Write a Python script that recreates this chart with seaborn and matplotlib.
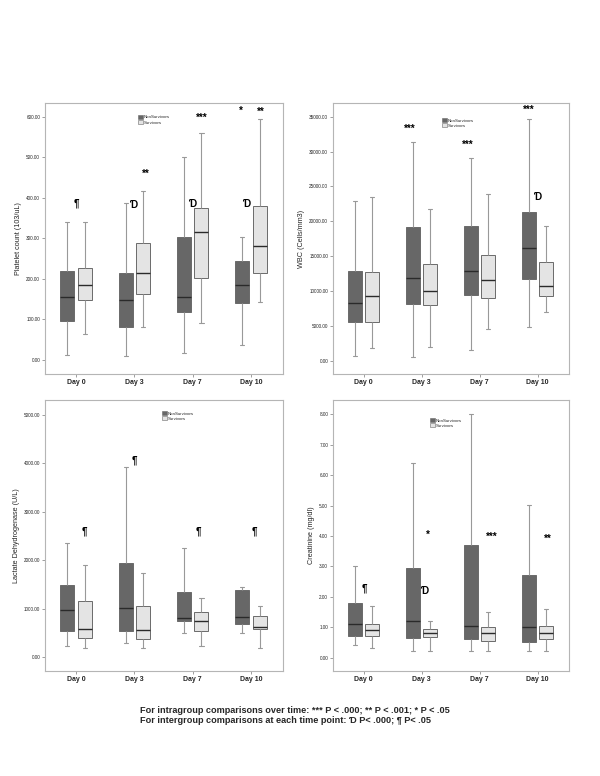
import numpy as np
import pandas as pd
import matplotlib
matplotlib.use("Agg")
import matplotlib.pyplot as plt
import seaborn as sns
from matplotlib.patches import Patch

sns.set_style("white")
plt.rcParams['font.family'] = ['Liberation Sans', 'DejaVu Sans']

days = ["Day 0", "Day 3", "Day 7", "Day 10"]
groups = ["NonSurvivors", "Survivors"]

# five-number summaries per day: [min, Q1, median, Q3, max]
platelet_ns = [[11, 97, 155, 220, 341], [9, 82, 148, 214, 386],
               [16, 119, 156, 302, 500], [36, 139, 185, 243, 302]]
platelet_s = [[63, 147, 185, 226, 339], [81, 162, 214, 288, 417],
              [92, 203, 316, 374, 560], [142, 214, 281, 380, 594]]

wbc_ns = [[714, 5619, 8333, 12857, 22857], [619, 8238, 11857, 19238, 31429],
          [1619, 9524, 12905, 19333, 29048], [4905, 11762, 16238, 21381, 34714]]
wbc_s = [[1905, 5571, 9286, 12762, 23476], [2048, 8000, 10000, 13952, 21810],
         [4619, 9095, 11619, 15190, 23857], [7095, 9333, 10762, 14143, 19333]]

ldh_ns = [[233, 549, 974, 1488, 2346], [288, 535, 1008, 1934, 3910],
          [494, 741, 816, 1351, 2250], [494, 686, 823, 1379, 1440]]
ldh_s = [[185, 405, 576, 1152, 1900], [185, 384, 556, 1049, 1728],
         [240, 542, 741, 926, 1214], [185, 576, 617, 844, 1049]]

creat_ns = [[0.41, 0.70, 1.10, 1.81, 3.01], [0.21, 0.66, 1.21, 2.94, 6.41],
            [0.21, 0.60, 1.04, 3.70, 8.00], [0.21, 0.50, 1.00, 2.71, 5.01]]
creat_s = [[0.31, 0.70, 0.91, 1.10, 1.71], [0.21, 0.67, 0.80, 0.95, 1.21],
           [0.21, 0.56, 0.80, 1.00, 1.51], [0.21, 0.60, 0.80, 1.05, 1.61]]

platelet_ticks = [0, 100, 200, 300, 400, 500, 600]
platelet_ticklabels = ["0.00", "100.00", "200.00", "300.00", "400.00", "500.00", "600.00"]
wbc_ticks = [0, 5000, 10000, 15000, 20000, 25000, 30000, 35000]
wbc_ticklabels = ["0.00", "5000.00", "10000.00", "15000.00", "20000.00",
                  "25000.00", "30000.00", "35000.00"]
ldh_ticks = [0, 1000, 2000, 3000, 4000, 5000]
ldh_ticklabels = ["0.00", "1000.00", "2000.00", "3000.00", "4000.00", "5000.00"]
creat_ticks = [0, 1, 2, 3, 4, 5, 6, 7, 8]
creat_ticklabels = ["0.00", "1.00", "2.00", "3.00", "4.00", "5.00", "6.00", "7.00", "8.00"]

DSYM = "\u018A"
# significance marks: (text, day index, offset, y)
platelet_marks = [("¶", 0, 0.0, 386), (DSYM, 1, 0.0, 382), ("**", 1, 0.19, 460),
                  (DSYM, 2, 0.0, 384), ("***", 2, 0.16, 596), (DSYM, 3, -0.07, 384),
                  ("*", 3, -0.18, 614), ("**", 3, 0.17, 611)]
wbc_marks = [("***", 1, -0.21, 33300), ("***", 2, -0.2, 31000),
             ("***", 3, -0.15, 35900), (DSYM, 3, 0.01, 23500)]
ldh_marks = [("¶", 0, 0.14, 2590), ("¶", 1, 0.0, 4060), ("¶", 2, 0.1, 2590), ("¶", 3, 0.05, 2590)]
creat_marks = [("¶", 0, 0.02, 2.28), ("*", 1, 0.11, 4.03), (DSYM, 1, 0.06, 2.19),
               ("***", 2, 0.21, 3.98), ("**", 3, 0.17, 3.92)]

note_lines = ["For intragroup comparisons over time: *** P < .000; ** P < .001; * P < .05",
              "For intergroup comparisons at each time point: " + DSYM + " P< .000; ¶ P< .05"]


def make_df(ns, s):
    rows = []
    for i, d in enumerate(days):
        for v in ns[i]:
            rows.append((d, groups[0], v))
        for v in s[i]:
            rows.append((d, groups[1], v))
    return pd.DataFrame(rows, columns=["day", "group", "value"])


panels = [
    dict(df=make_df(platelet_ns, platelet_s), ylabel="Platelet count (103/uL)",
         ticks=platelet_ticks, labels=platelet_ticklabels, ylim=(-35, 633),
         marks=platelet_marks, rect=[0.075, 0.518, 0.397, 0.349], leg=(0.39, 0.957)),
    dict(df=make_df(wbc_ns, wbc_s), ylabel="WBC (Cells/mm3)",
         ticks=wbc_ticks, labels=wbc_ticklabels, ylim=(-1810, 36905),
         marks=wbc_marks, rect=[0.555, 0.518, 0.394, 0.349], leg=(0.46, 0.945)),
    dict(df=make_df(ldh_ns, ldh_s), ylabel="Lactate Dehydrogenase (U/L)",
         ticks=ldh_ticks, labels=ldh_ticklabels, ylim=(-281, 5295),
         marks=ldh_marks, rect=[0.075, 0.1353, 0.397, 0.349], leg=(0.49, 0.96)),
    dict(df=make_df(creat_ns, creat_s), ylabel="Creatinine (mg/dl)",
         ticks=creat_ticks, labels=creat_ticklabels, ylim=(-0.44, 8.47),
         marks=creat_marks, rect=[0.555, 0.1353, 0.394, 0.349], leg=(0.41, 0.934)),
]

palette = {"NonSurvivors": "#676767", "Survivors": "#e4e4e4"}

fig = plt.figure(figsize=(6, 7.76), dpi=100)
for p in panels:
    ax = fig.add_axes(p["rect"])
    sns.boxplot(data=p["df"], x="day", y="value", hue="group", order=days,
                hue_order=groups, palette=palette, width=0.6, gap=0.2,
                whis=(0, 100), linecolor="#6a6a6a", linewidth=0.7,
                medianprops=dict(color="#2a2a2a", linewidth=1.0),
                whiskerprops=dict(color="#999999", linewidth=0.8),
                capprops=dict(color="#999999", linewidth=0.8),
                capwidths=0.07, legend=False, ax=ax)
    ax.set_xlim(-0.53, 3.55)
    ax.set_ylim(*p["ylim"])
    ax.set_yticks(p["ticks"])
    ax.set_yticklabels(p["labels"], fontsize=3.3)
    ax.set_xticks(range(len(days)))
    ax.set_xticklabels(days, fontsize=5, fontweight="bold")
    ax.set_xlabel("")
    ax.set_ylabel(p["ylabel"], fontsize=5.2, labelpad=3)
    ax.tick_params(axis="both", length=2, width=0.5, color="#777777", pad=1.5,
                   bottom=True, left=True)
    for sp in ax.spines.values():
        sp.set_visible(True)
        sp.set_color("#b5b5b5")
        sp.set_linewidth(0.8)
    for txt, i, off, y in p["marks"]:
        ax.text(i + off, y, txt, ha="center", va="center", fontsize=7,
                fontweight="bold", color="black")
    handles = [Patch(facecolor=palette[g], edgecolor="#6a6a6a", linewidth=0.4) for g in groups]
    ax.legend(handles, groups, loc="upper left", bbox_to_anchor=p["leg"], frameon=False,
              fontsize=3.2, handlelength=1.1, handleheight=1.1, handletextpad=0.2,
              labelspacing=0.1, borderpad=0, borderaxespad=0)

for k, line in enumerate(note_lines):
    fig.text(140 / 600, 1 - (710.5 + 10 * k) / 776, line,
             ha="left", va="center", fontsize=6.6, fontweight="bold")

fig.savefig("out.png", dpi=100)
